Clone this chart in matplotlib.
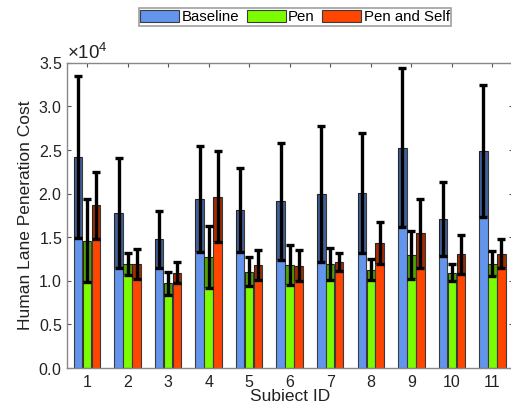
import numpy as np
import matplotlib
matplotlib.use('Agg')
import matplotlib.pyplot as plt
from matplotlib.ticker import ScalarFormatter

plt.rcParams['font.family'] = ['Liberation Sans', 'DejaVu Sans']
plt.rcParams['mathtext.fontset'] = 'custom'
plt.rcParams['mathtext.rm'] = 'Liberation Sans'

subjects = np.arange(1, 12)
series = ['Baseline', 'Pen', 'Pen and Self']
colors = ['#6495ED', '#7CFC00', '#FF4500']

# mean cost per subject
baseline = [24200, 17750, 14750, 19400, 18100, 19100, 19950, 20100, 25250, 17100, 24900]
pen = [14600, 11950, 9700, 12700, 11050, 11800, 11950, 11250, 12950, 10950, 11950]
pen_self = [18650, 11950, 10950, 19650, 11800, 11750, 12150, 14350, 15450, 13050, 13100]

# standard deviation
baseline_sd = [9300, 6300, 3300, 6050, 4800, 6750, 7750, 6900, 9100, 4200, 7600]
pen_sd = [4750, 1250, 1350, 3550, 1700, 2300, 1850, 1200, 2750, 970, 1450]
pen_self_sd = [3850, 1700, 1250, 5200, 1750, 1750, 1050, 2400, 3950, 2250, 1650]

means = [baseline, pen, pen_self]
sds = [baseline_sd, pen_sd, pen_self_sd]

fig = plt.figure(figsize=(5.11, 4.08), dpi=100)
ax = fig.add_axes([0.131, 0.098, 0.872, 0.748])

w = 0.21
offs = [-0.222, 0, 0.222]
handles = []
for m, s, c, o, lab in zip(means, sds, colors, offs, series):
    m = np.array(m)
    s = np.array(s)
    x = subjects + o
    h = ax.bar(x, m, width=w, color=c, edgecolor='#3a3a3a', linewidth=0.8, label=lab, zorder=2)
    handles.append(h)
    # darker band where the error bar sits inside the bar
    ax.bar(x, s, bottom=m - s, width=w, color='black', alpha=0.35, linewidth=0, zorder=3)
    ax.errorbar(x, m, yerr=s, fmt='none', ecolor='black', elinewidth=2.4,
                capsize=3.2, capthick=2.4, zorder=4)

ax.set_xlim(0.5, 11.5)
ax.set_ylim(0, 35000)
ax.set_xticks(subjects)
ax.set_yticks(np.arange(0, 35001, 5000))

fmt = ScalarFormatter(useMathText=True)
fmt.set_powerlimits((0, 0))
ax.yaxis.set_major_formatter(fmt)
ax.yaxis.get_offset_text().set_fontsize(13.5)
ax.yaxis.get_offset_text().set_color('#555555')

ax.tick_params(direction='in', length=3, width=0.8, color='#555555',
               top=True, right=True, labelsize=11.5, labelcolor='#222222')
ax.tick_params(axis='x', pad=5)
for sp in ax.spines.values():
    sp.set_color('#888888')
    sp.set_linewidth(1.0)

ax.set_xlabel('Subiect ID', fontsize=12.5, color='#222222', labelpad=-1)
ax.set_ylabel('Human Lane Peneration Cost', fontsize=12.5, color='#222222', labelpad=4)

leg = fig.legend(handles=handles, labels=series, loc='center',
                 bbox_to_anchor=(295 / 511, 1 - 17 / 408), ncol=3, fontsize=10.8,
                 frameon=True, fancybox=False, edgecolor='#888888',
                 handlelength=2.6, handleheight=0.9, handletextpad=0.15,
                 columnspacing=0.5, borderpad=0.12, borderaxespad=0)
leg.get_frame().set_linewidth(1.2)

fig.savefig('out.png', dpi=100)
